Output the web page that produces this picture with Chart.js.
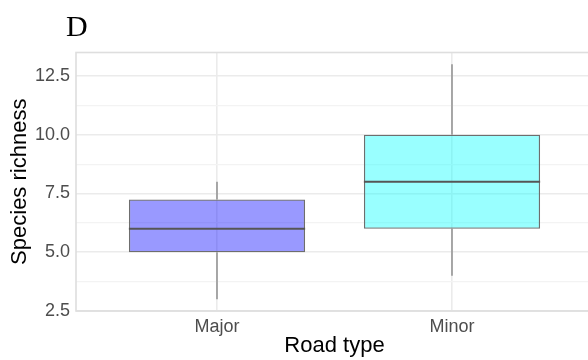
<!DOCTYPE html>
<html>
<head>
<meta charset="utf-8">
<script src="https://cdn.jsdelivr.net/npm/chart.js@4/dist/chart.umd.min.js"></script>
<style>
  html, body { margin: 0; padding: 0; background: #fff; overflow: hidden; width: 588px; height: 360px; }
  canvas { display: block; }
</style>
</head>
<body>
<canvas id="c" width="600" height="360"></canvas>
<script>
// Species richness by road type (box plot summary values)
const categories  = ['Major', 'Minor'];
const whiskerLow  = [3, 4];
const q1          = [5, 6];
const median      = [6, 8];
const q3          = [7.25, 10];
const whiskerHigh = [8, 13];
const yTickValues = [2.5, 3.75, 5, 6.25, 7.5, 8.75, 10, 11.25, 12.5];
const boxFills    = ['rgba(0,0,255,0.4)', 'rgba(0,255,255,0.4)'];

const BOX_WIDTH = 0.75;           // in x-axis units (category spacing = 1)
const FONT = "'Liberation Sans', Arial, sans-serif";

const boxData = categories.map((c, i) => ({ x: i + 1, y: [q1[i], q3[i]] }));

const whiskerData = [];
categories.forEach((c, i) => {
  const x = i + 1;
  whiskerData.push({ x, y: whiskerLow[i] }, { x, y: q1[i] }, { x, y: null });
  whiskerData.push({ x, y: q3[i] }, { x, y: whiskerHigh[i] }, { x, y: null });
});

const medianData = [];
categories.forEach((c, i) => {
  const x = i + 1;
  medianData.push({ x: x - BOX_WIDTH / 2, y: median[i] },
                  { x: x + BOX_WIDTH / 2, y: median[i] },
                  { x, y: null });
});

const isMajor = v => Math.abs(((v - 2.5) / 2.5) - Math.round((v - 2.5) / 2.5)) < 1e-6;

// panel border and the panel tag letter
const panelDecor = {
  id: 'panelDecor',
  afterDraw(chart) {
    const { ctx, chartArea: a } = chart;
    ctx.save();
    ctx.strokeStyle = '#dedede';
    ctx.lineWidth = 1.6;
    ctx.strokeRect(a.left, a.top, a.right - a.left, a.bottom - a.top);
    ctx.fillStyle = '#000';
    ctx.font = "30px 'Liberation Serif', 'Times New Roman', serif";
    ctx.textBaseline = 'alphabetic';
    ctx.textAlign = 'left';
    ctx.fillText('D', 66, 36);
    ctx.restore();
  }
};

new Chart(document.getElementById('c'), {
  type: 'bar',
  data: {
    datasets: [
      {
        type: 'line',
        label: 'median',
        data: medianData,
        borderColor: '#555555',
        borderWidth: 2.2,
        pointRadius: 0,
        spanGaps: false,
        order: 0
      },
      {
        type: 'bar',
        label: 'box',
        data: boxData,
        backgroundColor: boxFills,
        borderColor: '#6e6e6e',
        borderWidth: 1.3,
        borderSkipped: false,
        barPercentage: BOX_WIDTH,
        categoryPercentage: 1,
        order: 1
      },
      {
        type: 'line',
        label: 'whisker',
        data: whiskerData,
        borderColor: '#808080',
        borderWidth: 1.3,
        pointRadius: 0,
        spanGaps: false,
        order: 2
      }
    ]
  },
  options: {
    responsive: false,
    animation: false,
    devicePixelRatio: 1,
    layout: { padding: { top: 52.5, right: 7, left: 0, bottom: 0 } },
    plugins: { legend: { display: false }, tooltip: { enabled: false } },
    scales: {
      x: {
        type: 'linear',
        min: 0.4,
        max: 2.6,
        offset: false,
        afterBuildTicks: s => { s.ticks = categories.map((c, i) => ({ value: i + 1 })); },
        afterFit: s => { s.height = 49; },
        grid: { color: '#ebebeb', lineWidth: 1.6, drawTicks: false, offset: false },
        border: { display: false },
        ticks: {
          autoSkip: false,
          maxRotation: 0,
          padding: 5,
          color: '#4d4d4d',
          font: { family: FONT, size: 18 },
          callback: v => categories[Math.round(v) - 1] || ''
        },
        title: {
          display: true,
          text: 'Road type',
          color: '#000',
          font: { family: FONT, size: 22 },
          padding: { top: 0, bottom: 1 }
        }
      },
      y: {
        type: 'linear',
        min: 2.5,
        max: 13.5,
        afterBuildTicks: s => { s.ticks = yTickValues.map(v => ({ value: v })); },
        afterFit: s => { s.width = 76; },
        grid: {
          color: c => isMajor(c.tick.value) ? '#ebebeb' : '#f3f3f3',
          lineWidth: c => isMajor(c.tick.value) ? 1.6 : 1.2,
          drawTicks: false
        },
        border: { display: false },
        ticks: {
          autoSkip: false,
          padding: 6,
          color: '#4d4d4d',
          font: { family: FONT, size: 18 },
          callback: v => isMajor(v) ? v.toFixed(1) : ''
        },
        title: {
          display: true,
          text: 'Species richness',
          color: '#000',
          font: { family: FONT, size: 22 },
          padding: { top: 7, bottom: 0 }
        }
      }
    }
  },
  plugins: [panelDecor]
});
</script>
</body>
</html>
